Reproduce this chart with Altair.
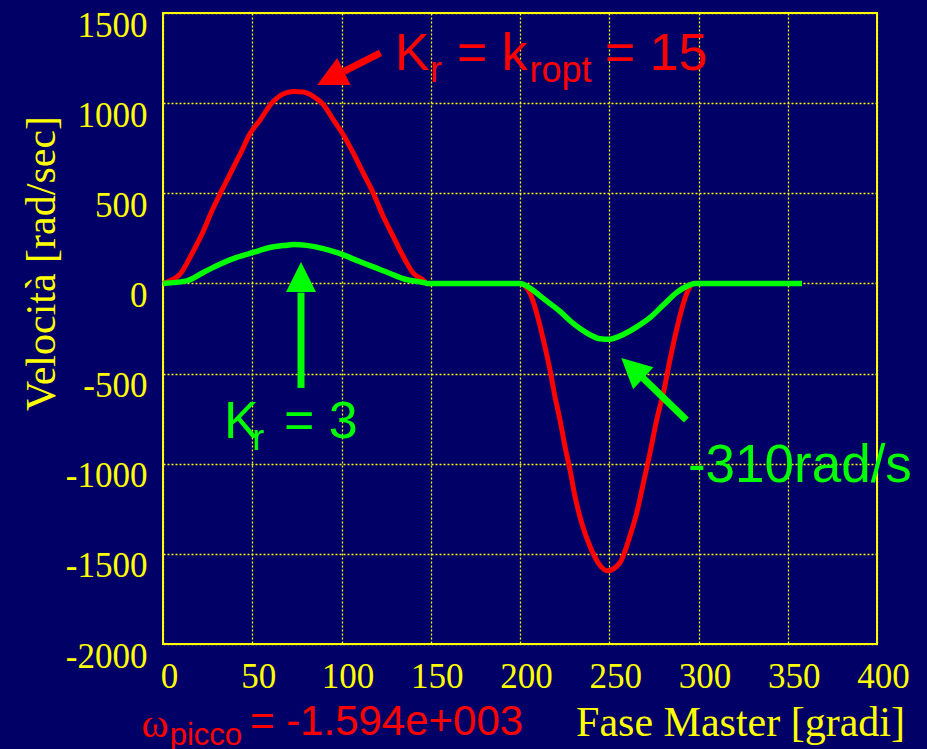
import altair as alt
import pandas as pd

# Velocity of the slave axis vs. master phase, two values of the gain Kr
# Kr = k_ropt = 15 (red)
red_phase = [0, 9.5, 17, 22.6, 27.3, 32.9, 38.5, 44.1, 48.7, 54.3, 60.9, 68.3, 73,
             78.6, 84.2, 89.8, 95.4, 101, 106.6, 112.2, 117.8, 123.4, 129, 134.6,
             140.2, 145.8, 148, 200, 205.6, 209.4, 213.1, 216.8, 219.6, 222.4,
             225.2, 228, 230.8, 234.6, 239.2, 243.9, 249, 255.9, 261.5, 265.4,
             269.1, 272.8, 276.6, 280.3, 284, 287.7, 291.5, 295.2, 297, 358]
red_speed = [0, 51, 180, 290, 400, 515, 625, 735, 830, 905, 1000, 1055, 1065,
             1062, 1038, 992, 908, 825, 723, 612, 501, 371, 260, 149,
             57, 19, 0, 0, -55, -166, -314, -480, -628, -757,
             -904, -1034, -1181, -1330, -1458, -1551, -1594, -1550, -1403, -1273,
             -1107, -941, -756, -608, -424, -258, -111, -18, 0, 0]

# Kr = 3 (green)
green_phase = [0, 13.3, 22.6, 31.9, 41.3, 50.6, 59.9, 69.3, 73, 80.5, 89.8, 99.2,
               108.5, 117.8, 127.2, 136.5, 145.8, 148, 200, 205.6, 211.2, 216.8,
               222.4, 228, 233.6, 239.2, 244.8, 250, 257.9, 265.4, 272.8, 280.3,
               287.7, 295.2, 298, 358]
green_speed = [0, 14, 61, 107, 144, 172, 199, 212, 216, 211, 193, 165,
               128, 92, 55, 21, 5, 0, 0, -26, -69, -112,
               -155, -207, -250, -285, -307, -310, -283, -241, -190, -120,
               -51, -8, 0, 0]

x_ticks = list(range(0, 401, 50))
y_ticks = list(range(-2000, 1501, 500))

RED = "#ff0000"
GREEN = "#00ff00"
YELLOW = "#ffff00"
NAVY = "#000066"
SANS = "Liberation Sans"
SERIF = "Liberation Serif"

# plain integers with an ASCII hyphen for negatives, no thousands separator
PLAIN = "toString(datum.value)"

X = alt.X(
    "x:Q",
    scale=alt.Scale(domain=[0, 400], nice=False),
    axis=alt.Axis(
        values=x_ticks, title="Fase Master [gradi]", grid=True, domain=False,
        ticks=False, labelFlush=False, labelOverlap=False, labelPadding=43,
        labelBaseline="alphabetic", labelOffset=6, labelExpr=PLAIN,
        titleX=577, titleY=91, titleAlign="center", titleBaseline="alphabetic",
        titleAngle=0,
    ),
)
Y = alt.Y(
    "y:Q",
    scale=alt.Scale(domain=[-2000, 1500], nice=False),
    axis=alt.Axis(
        values=y_ticks, title="Velocità [rad/sec]", grid=True, domain=False,
        ticks=False, labelFlush=False, labelOverlap=False, labelPadding=16,
        labelBaseline="alphabetic", labelOffset=23, labelExpr=PLAIN,
        titleX=-108.5, titleY=250, titleAngle=270, titleAlign="center",
        titleBaseline="alphabetic",
    ),
)


def curve(phase, speed, color, width):
    df = pd.DataFrame({"x": phase, "y": speed})
    return alt.Chart(df).mark_line(
        color=color, strokeWidth=width, interpolate="monotone", strokeCap="butt"
    ).encode(x=X, y=Y)


def label(texts, xs, ys, color, size, font=SANS):
    df = pd.DataFrame({"x": xs, "y": ys, "t": texts})
    return alt.Chart(df).mark_text(
        color=color, fontSize=size, font=font, align="left", baseline="alphabetic"
    ).encode(x=X, y=Y, text="t:N")


def arrow(tail, shaft_end, head, angle, color):
    shaft = pd.DataFrame({"x": [tail[0]], "y": [tail[1]],
                          "x2": [shaft_end[0]], "y2": [shaft_end[1]]})
    tip = pd.DataFrame({"x": [head[0]], "y": [head[1]]})
    line = alt.Chart(shaft).mark_rule(color=color, strokeWidth=7).encode(
        x=X, y=Y, x2="x2:Q", y2="y2:Q")
    point = alt.Chart(tip).mark_point(
        shape="M0,-1L1,1L-1,1Z", filled=True, size=900, angle=angle,
        color=color, opacity=1, strokeWidth=0,
    ).encode(x=X, y=Y)
    return line + point


layers = [
    curve(red_phase, red_speed, RED, 5),
    curve(green_phase, green_speed, GREEN, 5.5),
    # K_r = k_ropt = 15
    label(["K", "= k", "= 15"], [130.0, 164.7, 247.6], [1184, 1184, 1184], RED, 52),
    label(["r", "ropt"], [149.6, 205.3], [1118, 1118], RED, 36),
    arrow((121.85, 1278.5), (101.4, 1175.9), (93.84, 1138.4), 243.4, RED),
    # K_r = 3
    label(["K", "= 3"], [34.2, 67.8], [-855.3, -855.3], GREEN, 52),
    label(["r"], [50.0], [-925.8], GREEN, 36),
    arrow((77.31, -579.6), (77.31, -51.0), (77.31, 36.05), 0, GREEN),
    # minimum of the Kr = 3 curve
    label(["-310rad/s"], [294.1], [-1101.0], GREEN, 53),
    arrow((293.2, -757.1), (268.9, -524.1), (262.9, -469.8), 312.8, GREEN),
    # peak speed of the Kr = 15 curve
    label(["ω"], [-12.0], [-2513.7], RED, 41, SERIF),
    label(["picco"], [3.75], [-2559.8], RED, 31),
    label(["= -1.594e+003"], [48.7], [-2504.3], RED, 42),
]

chart = alt.layer(*layers).properties(
    width=714,
    height=631,
    autosize=alt.AutoSizeParams(type="none"),
    padding={"left": 163, "top": 13, "right": 50, "bottom": 105},
    background=NAVY,
).configure_view(
    stroke=YELLOW, strokeWidth=2, fill=NAVY
).configure_axis(
    labelFont=SERIF, labelFontSize=35, labelColor=YELLOW, labelFontWeight="normal",
    titleFont=SERIF, titleFontSize=42, titleColor=YELLOW, titleFontWeight="normal",
    gridColor=YELLOW, gridDash=[2, 2], gridWidth=1.3, gridOpacity=1,
)

chart.save("out.html", embed_options={"renderer": "svg", "actions": False})
